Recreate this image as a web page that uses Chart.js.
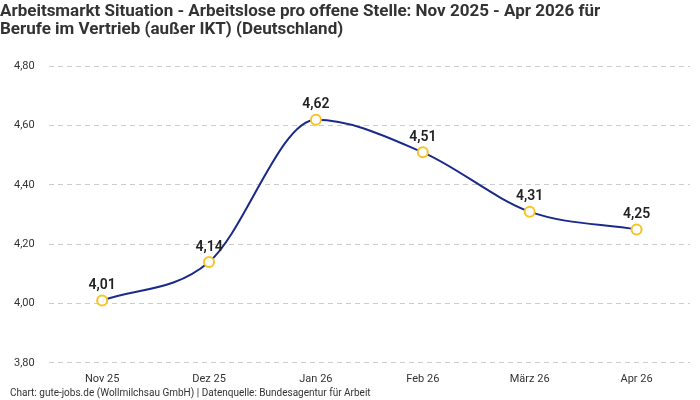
<!DOCTYPE html>
<html>
<head>
<meta charset="utf-8">
<script src="https://cdn.jsdelivr.net/npm/chart.js@4"></script>
<style>
  html, body { margin: 0; padding: 0; background: #fff; }
  #wrap { width: 700px; height: 400px; position: relative; }
</style>
</head>
<body>
<div id="wrap"><canvas id="chart"></canvas></div>
<script>
const months = ['Nov 25', 'Dez 25', 'Jan 26', 'Feb 26', 'März 26', 'Apr 26'];
const ratio = [4.01, 4.14, 4.62, 4.51, 4.31, 4.25];
const yTicks = [3.8, 4.0, 4.2, 4.4, 4.6, 4.8];

const titleLines = [
    'Arbeitsmarkt Situation - Arbeitslose pro offene Stelle: Nov 2025 - Apr 2026 für',
    'Berufe im Vertrieb (außer IKT) (Deutschland)'
];
const sourceText = 'Chart: gute-jobs.de (Wollmilchsau GmbH) | Datenquelle: Bundesagentur für Arbeit';

const fmt = v => v.toFixed(2).replace('.', ',');
const font = "'Roboto', sans-serif";

// Werte über den Punkten
const valueLabels = {
    id: 'valueLabels',
    afterDatasetsDraw(chart) {
        const ctx = chart.ctx;
        const meta = chart.getDatasetMeta(0);
        ctx.save();
        ctx.font = "600 14px 'Roboto', sans-serif";
        ctx.fillStyle = '#222';
        ctx.textAlign = 'center';
        ctx.textBaseline = 'bottom';
        meta.data.forEach((pt, i) => {
            ctx.fillText(fmt(ratio[i]), pt.x, pt.y - 8);
        });
        ctx.restore();
    }
};

// Quellenangabe unten links
const sourceLine = {
    id: 'sourceLine',
    afterDraw(chart) {
        const ctx = chart.ctx;
        ctx.save();
        ctx.font = "10px 'Roboto', sans-serif";
        ctx.fillStyle = '#333';
        ctx.textAlign = 'left';
        ctx.textBaseline = 'middle';
        ctx.fillText(sourceText, 10, 393);
        ctx.restore();
    }
};

new Chart(document.getElementById('chart'), {
    type: 'line',
    data: {
        labels: months,
        datasets: [{
            data: ratio,
            borderColor: '#1a2a8c',
            borderWidth: 2,
            cubicInterpolationMode: 'monotone',
            pointRadius: 5,
            pointBorderWidth: 2,
            pointBackgroundColor: '#fff',
            pointBorderColor: '#f7c325',
            fill: false
        }]
    },
    options: {
        responsive: true,
        maintainAspectRatio: false,
        animation: false,
        layout: { padding: { left: 0, right: 10, top: 0, bottom: 12 } },
        plugins: {
            legend: { display: false },
            tooltip: { enabled: false },
            title: {
                display: true,
                text: titleLines,
                align: 'start',
                color: '#333',
                font: { family: font, size: 17, weight: 'bold', lineHeight: 1.1 },
                padding: { top: 2, bottom: 27 }
            }
        },
        scales: {
            x: {
                offset: true,
                grid: { display: false },
                border: { display: false },
                ticks: { color: '#333', font: { family: font, size: 11 }, padding: 2 }
            },
            y: {
                min: 3.8,
                max: 4.8,
                afterBuildTicks: axis => { axis.ticks = yTicks.map(v => ({ value: v })); },
                grid: { color: '#cccccc', drawTicks: false },
                border: { display: false, dash: [5, 4] },
                ticks: {
                    color: '#333',
                    font: { family: font, size: 11 },
                    padding: 14,
                    callback: v => fmt(v)
                }
            }
        }
    },
    plugins: [valueLabels, sourceLine]
});
</script>
</body>
</html>
